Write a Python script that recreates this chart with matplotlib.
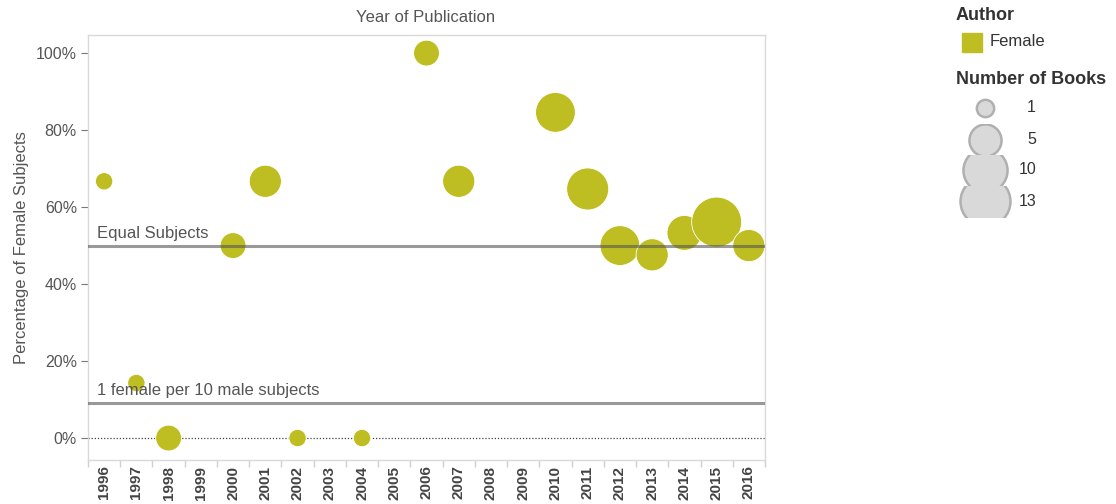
import matplotlib
matplotlib.use("Agg")
import matplotlib.pyplot as plt
from matplotlib.patches import Rectangle
from matplotlib.ticker import FixedLocator, FuncFormatter

plt.rcParams['font.family'] = ['Liberation Sans', 'DejaVu Sans']

# data
years = [str(y) for y in range(1996, 2017)]
point_years = ['1996', '1997', '1998', '2000', '2001', '2002', '2004', '2006',
               '2007', '2010', '2011', '2012', '2013', '2014', '2015', '2016']
pct_female = [66.7, 14.3, 0, 50, 66.7, 0, 0, 100,
              66.7, 84.6, 64.7, 50, 47.6, 53.3, 56.1, 50]
n_books = [1, 1, 3, 3, 5, 1, 1, 3, 5, 8, 9, 8, 5, 6, 13, 5]
legend_books = [1, 5, 10, 13]
ref_values = [50, 100 / 11]
ref_labels = ['Equal Subjects', '1 female per 10 male subjects']

olive = '#bebe22'
grey_txt = '#555555'


def marker_size(n):
    # diameter in px squared grows linearly with book count, convert to pt^2
    d_px2 = 117 + 183 * n
    return d_px2 * 0.72 ** 2


fig = plt.figure(figsize=(11.16, 5.04), dpi=100)
ax = fig.add_axes([88 / 1116, 1 - 460 / 504, (765 - 88) / 1116, (460 - 35) / 504])

xpos = [years.index(y) for y in point_years]
ax.scatter(xpos, pct_female, s=[marker_size(n) for n in n_books], color=olive,
           edgecolors='white', linewidths=0.6, zorder=3)

ax.axhline(0, color='#444444', lw=0.9, ls=(0, (1, 1.5)), zorder=2)
for v, lab in zip(ref_values, ref_labels):
    ax.axhline(v, color='#555555', lw=2.2, alpha=0.6, zorder=4)
    ax.text(0.013, v + 1.2, lab, transform=ax.get_yaxis_transform(),
            fontsize=12, color=grey_txt, va='bottom', ha='left', zorder=5)

ax.set_xlim(-0.5, len(years) - 0.5)
ax.set_ylim(-5.7, 104.7)

ax.xaxis.set_major_locator(FixedLocator(range(len(years))))
ax.set_xticklabels(years, rotation=90, fontsize=11, fontweight='bold', color='#444444')
ax.xaxis.set_minor_locator(FixedLocator([i + 0.5 for i in range(-1, len(years))]))
ax.tick_params(axis='x', which='major', length=0, pad=4)
ax.tick_params(axis='x', which='minor', length=5, color='#d0d0d0', width=1)

ax.set_yticks(range(0, 101, 20))
ax.yaxis.set_major_formatter(FuncFormatter(lambda v, p: f'{v:.0f}%'))
ax.tick_params(axis='y', length=5, color='#777777', labelsize=11.5, labelcolor=grey_txt, pad=3)
ax.set_ylabel('Percentage of Female Subjects', fontsize=12, color=grey_txt, labelpad=5)

for s in ax.spines.values():
    s.set_color('#d9d9d9')
    s.set_linewidth(1)

fig.text(426 / 1116, 1 - 18 / 504, 'Year of Publication', ha='center', va='center',
         fontsize=12, color=grey_txt)

# legend
fig.text(956 / 1116, 1 - 15 / 504, 'Author', fontsize=13, fontweight='bold',
         color='#333333', va='center')
fig.patches.append(Rectangle((962 / 1116, 1 - 52 / 504), 20 / 1116, 19 / 504,
                             transform=fig.transFigure, color=olive))
fig.text(990 / 1116, 1 - 42 / 504, 'Female', fontsize=12, color='#333333', va='center')
fig.text(956 / 1116, 1 - 80 / 504, 'Number of Books', fontsize=13, fontweight='bold',
         color='#333333', va='center')

lax = fig.add_axes([950 / 1116, 1 - 217 / 504, 90 / 1116, 125 / 504])
lax.set_xlim(950, 1040)
lax.set_ylim(217, 92)
lax.axis('off')
row_y = [108, 140, 170, 201]
for i, (n, yy) in enumerate(zip(legend_books, row_y)):
    sc = lax.scatter([985], [yy], s=marker_size(n), color='#d9d9d9',
                     edgecolors='#b0b0b0', linewidths=1.8, clip_on=True)
    top = 92 if i == 0 else (row_y[i - 1] + yy) / 2
    bot = 217 if i == len(row_y) - 1 else (row_y[i + 1] + yy) / 2
    clip = Rectangle((950, top), 90, bot - top, transform=lax.transData)
    sc.set_clip_path(clip)
    lax.text(1036, yy, str(n), fontsize=11.5, color='#333333', va='center', ha='right')

fig.savefig('out.png', dpi=100, facecolor='white')
